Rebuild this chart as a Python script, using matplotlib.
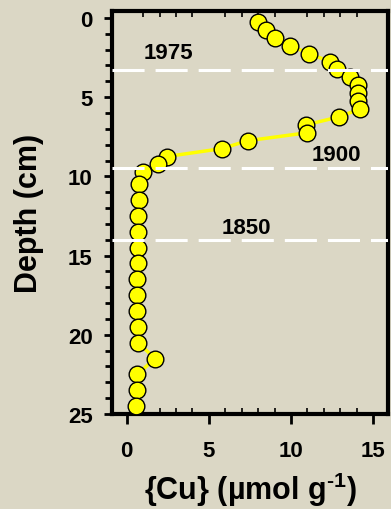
import matplotlib
matplotlib.use('Agg')
import matplotlib.pyplot as plt
from matplotlib.ticker import MultipleLocator

plt.rcParams['font.family'] = ['Liberation Sans', 'DejaVu Sans']
plt.rcParams['font.weight'] = 'bold'
plt.rcParams['mathtext.fontset'] = 'custom'
plt.rcParams['mathtext.rm'] = 'Liberation Sans:bold'
plt.rcParams['mathtext.default'] = 'rm'

# sediment depth (cm) and copper concentration (umol/g)
depth = [0.25, 0.75, 1.25, 1.75, 2.25, 2.75, 3.25, 3.75, 4.25, 4.75,
         5.25, 5.75, 6.25, 6.75, 7.25, 7.75, 8.25, 8.75, 9.25, 9.75,
         10.5, 11.5, 12.5, 13.5, 14.5, 15.5, 16.5, 17.5, 18.5, 19.5,
         20.5, 21.5, 22.5, 23.5, 24.5]
cu = [7.97, 8.46, 9.0, 9.96, 11.08, 12.36, 12.82, 13.58, 14.07, 14.07,
      14.07, 14.19, 12.9, 10.9, 10.96, 7.36, 5.77, 2.42, 1.93, 0.98,
      0.77, 0.75, 0.71, 0.71, 0.69, 0.69, 0.63, 0.63, 0.65, 0.69,
      0.71, 1.71, 0.65, 0.61, 0.59]

# dated horizons
years = ['1975', '1900', '1850']
year_depth = [3.3, 9.5, 14.0]
label_x = [2.56, 12.74, 7.26]
label_y = [2.2, 8.6, 13.2]

bg = '#DBD7C5'
fig = plt.figure(figsize=(3.91, 5.10), dpi=100, facecolor=bg)
ax = fig.add_axes([0.2864, 0.1863, 0.7059, 0.7902], facecolor=bg)

ax.plot(cu, depth, '-', color='#FFFF00', lw=2.5, zorder=3)
ax.plot(cu, depth, 'o', ms=12, mfc='#FFFF00', mec='black', mew=1.0, zorder=4)

for yr, d, lx, ly in zip(years, year_depth, label_x, label_y):
    ax.axhline(d, color='white', lw=2.2, dashes=(10.5, 3.6), zorder=5)
    ax.text(lx, ly, yr, fontsize=16, fontweight='bold', ha='center', va='center')

ax.set_xlim(-0.9, 15.9)
ax.set_ylim(25, -0.44)
ax.set_xticks([0, 5, 10, 15])
ax.set_yticks([0, 5, 10, 15, 20, 25])
ax.xaxis.set_minor_locator(MultipleLocator(1))
ax.yaxis.set_minor_locator(MultipleLocator(1))

ax.tick_params(axis='x', which='major', direction='out', length=7, width=2,
               labelsize=16, pad=12)
ax.tick_params(axis='x', which='minor', direction='in', length=4, width=1.2,
               top=True)
ax.tick_params(axis='y', which='major', direction='out', length=6, width=2,
               labelsize=16, pad=8)
ax.tick_params(axis='y', which='minor', direction='out', length=5, width=2)

for s in ax.spines.values():
    s.set_linewidth(3)

ax.set_xlabel('{Cu} (µmol g$^{\\text{-1}}$)', fontsize=22, fontweight='bold', labelpad=6)
ax.set_ylabel('Depth (cm)', fontsize=22, fontweight='bold', labelpad=17)

fig.savefig('out.png', dpi=100, facecolor=bg)
